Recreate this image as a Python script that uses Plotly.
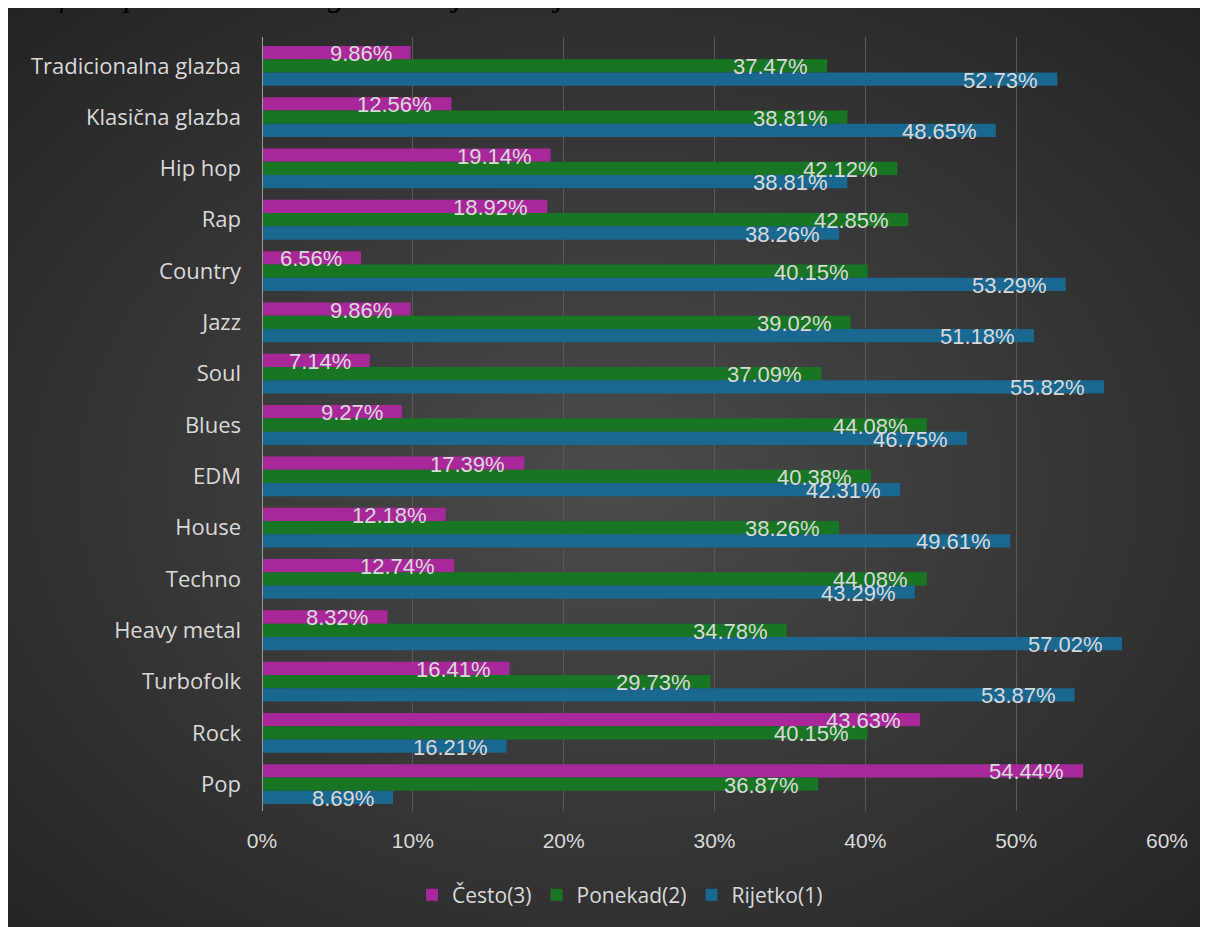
import base64
import plotly.graph_objects as go

categories = ["Tradicionalna glazba", "Klasična glazba", "Hip hop", "Rap", "Country", "Jazz",
              "Soul", "Blues", "EDM", "House", "Techno", "Heavy metal", "Turbofolk", "Rock", "Pop"]
cesto = [9.86, 12.56, 19.14, 18.92, 6.56, 9.86, 7.14, 9.27, 17.39, 12.18, 12.74, 8.32, 16.41, 43.63, 54.44]
ponekad = [37.47, 38.81, 42.12, 42.85, 40.15, 39.02, 37.09, 44.08, 40.38, 38.26, 44.08, 34.78, 29.73, 40.15, 36.87]
rijetko = [52.73, 48.65, 38.81, 38.26, 53.29, 51.18, 55.82, 46.75, 42.31, 49.61, 43.29, 57.02, 53.87, 16.21, 8.69]
series_names = ["Često(3)", "Ponekad(2)", "Rijetko(1)"]
x_ticks = [0, 10, 20, 30, 40, 50, 60]
caption = "Grafički prikaz 8: Vrsta glazbe koju slušaju studenti"

colors = ["#a8289a", "#187524", "#1a6790"]
series = [cesto, ponekad, rijetko]
label_color = "#d9d9d9"

W, H = 1200, 919
L, R, T, B = 254, 41, 29, 116
pw, ph = W - L - R, H - T - B

fig = go.Figure()
for name, vals, col in zip(series_names, series, colors):
    fig.add_trace(go.Bar(
        y=categories, x=[v / 100 for v in vals], name=name, orientation="h",
        marker=dict(color=col, line=dict(width=0)),
        hoverinfo="skip",
    ))

# data labels
shifts = [13.3, 0, -13.3]
ann = []
for vals, ys in zip(series, shifts):
    for c, v in zip(categories, vals):
        ann.append(dict(x=v / 100, y=c, xref="x", yref="y", text=f"{v:.2f}%",
                        showarrow=False, xanchor="right", yanchor="middle",
                        xshift=-17, yshift=ys - 1,
                        font=dict(family="Liberation Sans, Arial", size=22, color=label_color)))

# caption (mostly cut off at top, above the chart)
ann.append(dict(x=(-4 - L) / pw, y=1 + (T - 7) / ph, xref="paper", yref="paper",
                text=f"<i>{caption}</i>", showarrow=False, xanchor="left", yanchor="bottom",
                font=dict(family="Liberation Serif, Times New Roman", size=33, color="#000000")))

svg = ("<svg xmlns='http://www.w3.org/2000/svg' width='1200' height='919'>"
       "<defs><radialGradient id='g' cx='50%' cy='52%' r='72%'>"
       "<stop offset='0' stop-color='#4b4b4b'/><stop offset='1' stop-color='#232323'/>"
       "</radialGradient></defs><rect width='1200' height='919' fill='url(#g)'/></svg>")
src = "data:image/svg+xml;base64," + base64.b64encode(svg.encode()).decode()

fig.update_layout(
    width=W, height=H,
    margin=dict(l=L, r=R, t=T, b=B, pad=0, autoexpand=False),
    paper_bgcolor="#2e2e2e", plot_bgcolor="rgba(0,0,0,0)",
    barmode="group", bargap=0.225, bargroupgap=0,
    showlegend=True,
    legend=dict(orientation="h", x=(612 - L) / pw, xanchor="center",
                y=(H - B - 887) / ph, yanchor="middle",
                font=dict(family="Open Sans", size=21, color=label_color),
                bgcolor="rgba(0,0,0,0)", traceorder="normal"),
    annotations=ann,
    images=[dict(source=src, xref="paper", yref="paper",
                 x=-L / pw, y=1 + T / ph,
                 sizex=W / pw, sizey=H / ph,
                 xanchor="left", yanchor="top", sizing="stretch", layer="below")],
    xaxis=dict(range=[0, 0.6], tickvals=[t / 100 for t in x_ticks],
               ticktext=[f"{t}%" for t in x_ticks],
               showgrid=True, gridcolor="#585858", gridwidth=1,
               zeroline=False, showline=False, ticks="", ticklabelstandoff=15,
               tickfont=dict(family="Liberation Sans, Arial", size=21, color=label_color),
               fixedrange=True),
    yaxis=dict(autorange="reversed", showgrid=False, zeroline=False,
               ticks="", ticklabelstandoff=20,
               tickfont=dict(family="Open Sans", size=22, color=label_color),
               showline=False),
    shapes=[dict(type="line", xref="x", yref="paper", x0=0, x1=0, y0=0, y1=1,
                 line=dict(color="#9a9a9a", width=2))],
)

fig.write_html("out.html")
